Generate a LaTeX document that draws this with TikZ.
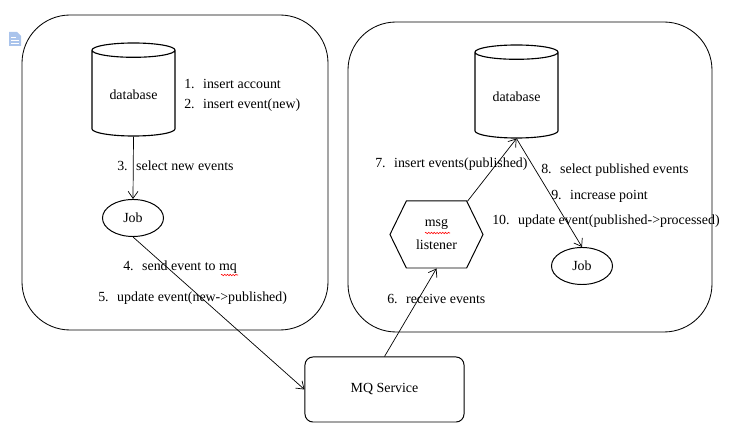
\documentclass[tikz,border=0pt]{standalone}
\usepackage{fontspec}
\setmainfont{Liberation Serif}
\usetikzlibrary{shapes.geometric,shapes.symbols,arrows.meta,decorations.pathmorphing}
\newcommand{\stepno}[1]{#1.\hspace{6pt}}
\definecolor{iconblue}{RGB}{170,196,236}
\begin{document}
\begin{tikzpicture}[x=0.025cm,y=-0.025cm,font=\fontsize{9.9}{11.8}\selectfont,
zone/.style={draw,line width=0.6pt,rounded corners=1.2cm},
db/.style={cylinder,draw,shape border rotate=90,aspect=0.25,line width=0.8pt,minimum width=2.075cm,minimum height=2.325cm},
job/.style={ellipse,draw,line width=0.7pt,minimum width=1.525cm,minimum height=0.925cm,inner sep=0pt},
listener/.style={signal,signal to=east and west,signal pointer angle=128,draw,line width=0.7pt,minimum width=2.325cm,minimum height=1.675cm,align=center,inner sep=0pt},
service/.style={draw,rounded corners=0.2cm,line width=0.7pt,minimum width=3.975cm,minimum height=1.625cm},
msg/.style={-{Straight Barb[length=5pt,width=7pt]},line width=0.5pt},
lbl/.style={anchor=west,inner sep=0pt},
typo/.style={red,line width=0.4pt,decorate,decoration={snake,amplitude=0.5pt,segment length=2pt}}]
\useasboundingbox (0,0) rectangle (733,432);

\fill[iconblue] (9,32) -- (17,32) -- (21,36) -- (21,46) -- (9,46) -- cycle;
\draw[white,line width=0.6pt] (11,37) -- (16,37) (11,40) -- (19,40) (11,43) -- (19,43);

\draw[zone] (22,15) rectangle (328,330);
\draw[zone] (348,22) rectangle (712,332);

\node[db,anchor=shape center] (DBa) at (133.5,89.5) {database};
\node[lbl] (La1) at (184,84) {\stepno{1}insert account};
\node[lbl] (La2) at (184,105) {\stepno{2}insert event(new)};

\node[job] (JOBa) at (133,218) {Job};
\draw[msg] (DBa.south) -- (JOBa.north);
\node[lbl] (La3) at (117,166) {\stepno{3}select new events};

\node[service] (MQ) at (384.5,389.5) {MQ Service};
\draw[msg] (JOBa.south) -- (MQ.west);
\node[lbl] (La4) at (123,267) {\stepno{4}send event to mq};
\node[lbl] (La5) at (98,298) {\stepno{5}update event(new->published)};
\draw[typo] (221,275) -- (238,275);

\node[listener] (LSN) at (436.5,234.5) {msg\\[5pt]listener};
\draw[typo] (425,233) -- (450,233);
\draw[msg] (MQ.north) -- (LSN.south);
\node[lbl] (Lb6) at (387,299) {\stepno{6}receive events};

\node[db,anchor=shape center] (DBb) at (516.5,91.5) {database};
\draw[msg] (LSN.47) -- (DBb.south);
\node[lbl] (Lb7) at (375,164) {\stepno{7}insert events(published)};

\node[job] (JOBb) at (582,266) {Job};
\draw[msg] (DBb.south) -- (JOBb.north);
\node[lbl] (Lb8) at (541,170) {\stepno{8}select published events};
\node[lbl] (Lb9) at (551,196) {\stepno{9}increase point};
\node[lbl] (Lb10) at (492,221) {\stepno{10}update event(published->processed)};
\end{tikzpicture}
\end{document}
